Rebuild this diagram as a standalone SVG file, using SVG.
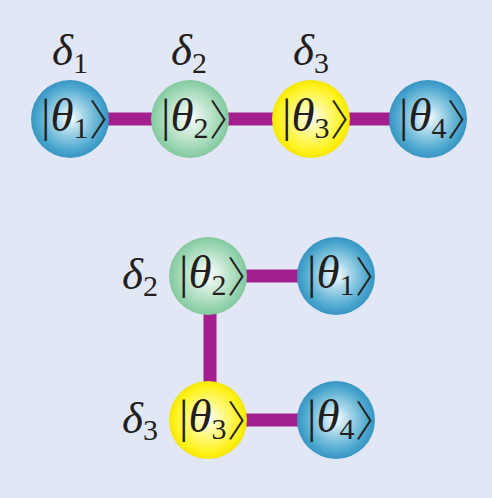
<svg xmlns="http://www.w3.org/2000/svg" width="492" height="498" viewBox="0 0 492 498">
<defs>
<radialGradient id="gb" cx="50%" cy="50%" r="50%" fx="50%" fy="48%">
<stop offset="0" stop-color="#ffffff"/>
<stop offset="0.35" stop-color="#a9d7ea"/>
<stop offset="0.8" stop-color="#4fa9d0"/>
<stop offset="1" stop-color="#3795c2"/>
</radialGradient>
<radialGradient id="gg" cx="50%" cy="50%" r="50%" fx="50%" fy="48%">
<stop offset="0" stop-color="#ffffff"/>
<stop offset="0.4" stop-color="#cdebd8"/>
<stop offset="0.85" stop-color="#94d2ad"/>
<stop offset="1" stop-color="#84c99f"/>
</radialGradient>
<radialGradient id="gy" cx="50%" cy="50%" r="50%" fx="50%" fy="48%">
<stop offset="0" stop-color="#ffffff"/>
<stop offset="0.4" stop-color="#fff98a"/>
<stop offset="0.85" stop-color="#fff21a"/>
<stop offset="1" stop-color="#f5e600"/>
</radialGradient>
<style>
.ln{stroke:#a21f8d;stroke-width:13;fill:none}
.t{font-family:"Liberation Serif","DejaVu Serif",serif;font-size:47px;fill:#231f20}
.i{font-style:italic}
.s{font-size:30px;font-style:normal}
.b{font-family:"Noto Sans CJK SC","DejaVu Serif",serif;font-size:42px;font-weight:300;font-style:normal}
.d{font-family:"Liberation Serif","DejaVu Serif",serif;font-size:45px;fill:#231f20}
.ds{font-size:30px}
</style>
</defs>
<rect width="492" height="498" fill="#e1e7f5"/>
<g id="connectors">
<line class="ln" x1="70" y1="119" x2="428" y2="119"/>
<line class="ln" x1="208" y1="276" x2="336" y2="276"/>
<line class="ln" x1="210" y1="276" x2="210" y2="420"/>
<line class="ln" x1="208" y1="420" x2="336" y2="420"/>
</g>
<g id="top-n1"><circle cx="70" cy="119" r="39" fill="url(#gb)"/><text class="t" x="41" y="131">|<tspan class="i">θ</tspan><tspan class="s" dy="7">1</tspan><tspan class="b" x="89" y="135">〉</tspan></text></g>
<g id="top-n2"><circle cx="190" cy="119" r="39" fill="url(#gg)"/><text class="t" x="161" y="131">|<tspan class="i">θ</tspan><tspan class="s" dy="7">2</tspan><tspan class="b" x="209" y="135">〉</tspan></text></g>
<g id="top-n3"><circle cx="311" cy="119" r="39" fill="url(#gy)"/><text class="t" x="282" y="131">|<tspan class="i">θ</tspan><tspan class="s" dy="7">3</tspan><tspan class="b" x="330" y="135">〉</tspan></text></g>
<g id="top-n4"><circle cx="428" cy="119" r="39" fill="url(#gb)"/><text class="t" x="399" y="131">|<tspan class="i">θ</tspan><tspan class="s" dy="7">4</tspan><tspan class="b" x="447" y="135">〉</tspan></text></g>
<g id="top-d1"><text class="d" x="52" y="65"><tspan class="i">δ</tspan><tspan class="ds" dy="8">1</tspan></text></g>
<g id="top-d2"><text class="d" x="171" y="65"><tspan class="i">δ</tspan><tspan class="ds" dy="8">2</tspan></text></g>
<g id="top-d3"><text class="d" x="293" y="65"><tspan class="i">δ</tspan><tspan class="ds" dy="8">3</tspan></text></g>
<g id="bot-n2"><circle cx="208" cy="276" r="39" fill="url(#gg)"/><text class="t" x="179" y="288">|<tspan class="i">θ</tspan><tspan class="s" dy="7">2</tspan><tspan class="b" x="227" y="292">〉</tspan></text></g>
<g id="bot-n1"><circle cx="336" cy="276" r="39" fill="url(#gb)"/><text class="t" x="307" y="288">|<tspan class="i">θ</tspan><tspan class="s" dy="7">1</tspan><tspan class="b" x="355" y="292">〉</tspan></text></g>
<g id="bot-n3"><circle cx="208" cy="420" r="39" fill="url(#gy)"/><text class="t" x="179" y="432">|<tspan class="i">θ</tspan><tspan class="s" dy="7">3</tspan><tspan class="b" x="227" y="436">〉</tspan></text></g>
<g id="bot-n4"><circle cx="336" cy="420" r="39" fill="url(#gb)"/><text class="t" x="307" y="432">|<tspan class="i">θ</tspan><tspan class="s" dy="7">4</tspan><tspan class="b" x="355" y="436">〉</tspan></text></g>
<g id="bot-d2"><text class="d" x="122" y="289"><tspan class="i">δ</tspan><tspan class="ds" dy="7">2</tspan></text></g>
<g id="bot-d3"><text class="d" x="122" y="433"><tspan class="i">δ</tspan><tspan class="ds" dy="7">3</tspan></text></g>
</svg>
